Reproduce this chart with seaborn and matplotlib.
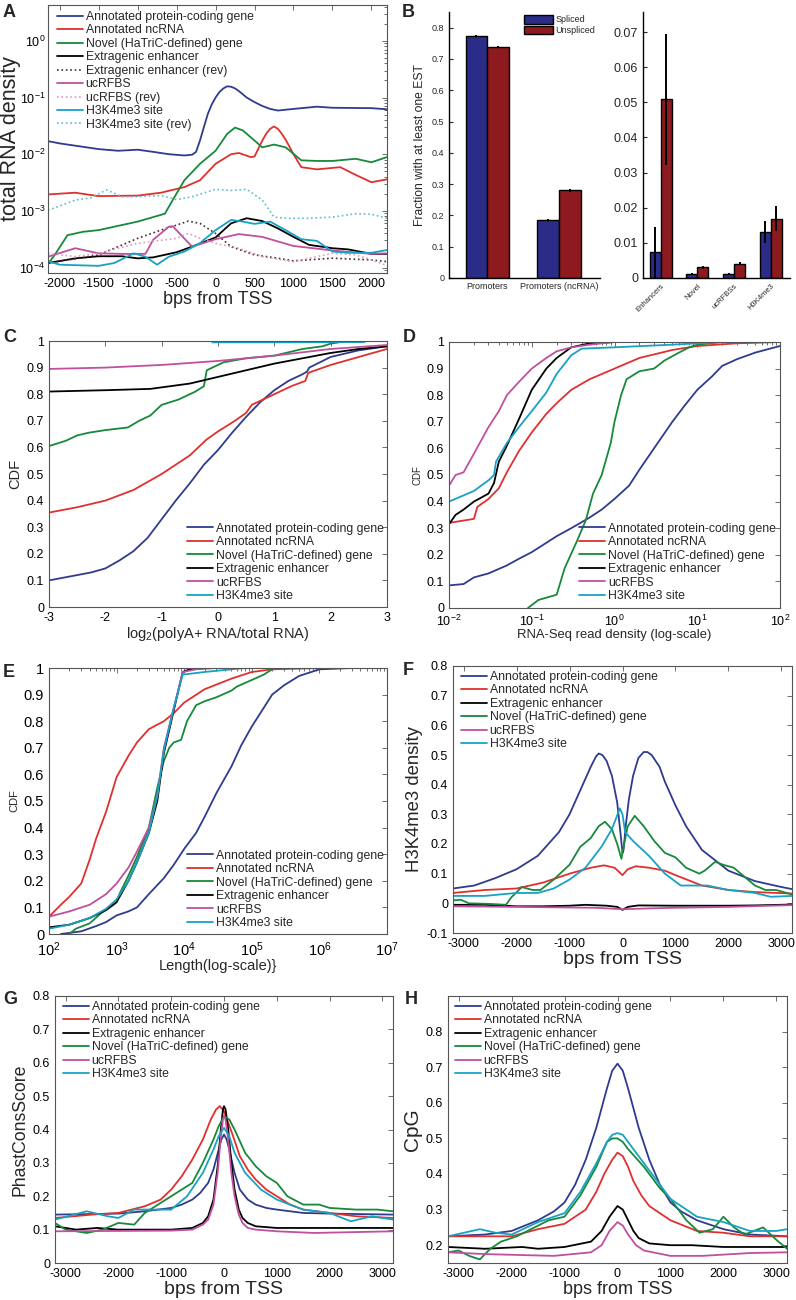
import numpy as np
import pandas as pd
import matplotlib
matplotlib.use('Agg')
import matplotlib.pyplot as plt
import seaborn as sns
from matplotlib.ticker import FuncFormatter, FixedLocator, LogLocator, NullFormatter

sns.set_style('white')
plt.rcParams['font.family'] = ['Liberation Sans', 'DejaVu Sans']
plt.rcParams['axes.unicode_minus'] = False
plt.rcParams['mathtext.default'] = 'regular'

# ---------------- colours ----------------
C_PC = '#2e3b8e'
C_NC = '#e0302e'
C_NOV = '#17893a'
C_ENH = '#000000'
C_UC = '#c0509e'
C_H3 = '#17a2c4'
C_ENH_REV = '#4a2a2a'
C_UC_REV = '#e09ac8'
C_H3_REV = '#5bbcd4'
C_SP = '#2a2c88'
C_UN = '#8c1a1f'

LBL_PC = 'Annotated protein-coding gene'
LBL_NC = 'Annotated ncRNA'
LBL_NOV = 'Novel (HaTriC-defined) gene'
LBL_ENH = 'Extragenic enhancer'
LBL_UC = 'ucRFBS'
LBL_H3 = 'H3K4me3 site'

# ---------------- Panel A data (total RNA density) ----------------
A_x_pc = [-2150, -2000, -1500, -1250, -1000, -800, -600, -400, -300, -250, -200, -150, -100, -50, 0, 50, 100, 150, 200, 250, 300, 400, 500, 600, 700, 800, 1000, 1300, 1500, 2000, 2200]
A_pc = [0.0170, 0.0155, 0.0123, 0.0115, 0.0120, 0.0110, 0.0100, 0.0095, 0.0098, 0.0110, 0.0174, 0.030, 0.051, 0.075, 0.100, 0.125, 0.145, 0.158, 0.155, 0.145, 0.130, 0.100, 0.083, 0.071, 0.063, 0.059, 0.063, 0.069, 0.066, 0.065, 0.062]
A_x_nc = [-2150, -1800, -1500, -1000, -700, -400, -200, 0, 200, 300, 450, 500, 600, 650, 700, 750, 800, 850, 900, 1000, 1100, 1300, 1600, 1800, 2000, 2200]
A_nc = [0.00195, 0.00209, 0.00182, 0.00186, 0.00209, 0.00263, 0.00347, 0.00676, 0.0100, 0.0105, 0.0089, 0.0091, 0.0174, 0.023, 0.028, 0.0309, 0.028, 0.0229, 0.018, 0.0100, 0.0059, 0.0054, 0.0059, 0.0043, 0.0032, 0.0036]
A_x_nov = [-2150, -2050, -1900, -1700, -1500, -1300, -1000, -800, -650, -550, -400, -200, 0, 150, 250, 350, 500, 600, 750, 900, 1100, 1300, 1500, 1800, 2000, 2200]
A_nov = [0.000115, 0.000178, 0.000372, 0.000427, 0.000457, 0.000525, 0.000646, 0.000776, 0.000891, 0.00155, 0.00347, 0.00676, 0.0115, 0.0229, 0.0295, 0.0263, 0.0174, 0.0132, 0.0148, 0.0132, 0.0078, 0.0076, 0.0076, 0.0083, 0.0072, 0.0089]
A_x_enh = [-2150, -1800, -1500, -1200, -1000, -800, -500, -300, 0, 200, 400, 600, 800, 1000, 1200, 1500, 1700, 2000, 2200]
A_enh = [0.000120, 0.000145, 0.000158, 0.000158, 0.000145, 0.000151, 0.000186, 0.000234, 0.000339, 0.000603, 0.000741, 0.000661, 0.000490, 0.000347, 0.000251, 0.000219, 0.000209, 0.000174, 0.000174]
A_x_enh_rev = [-2150, -1500, -1000, -700, -500, -350, -200, 0, 200, 500, 800, 1000, 1500, 2000, 2200]
A_enh_rev = [0.000119, 0.000167, 0.000327, 0.000458, 0.000561, 0.000659, 0.000600, 0.000400, 0.000233, 0.000167, 0.000146, 0.000131, 0.000146, 0.000136, 0.000127]
A_x_uc = [-2150, -1800, -1500, -1200, -900, -800, -600, -550, -400, -300, 0, 300, 600, 1000, 1500, 2000, 2200]
A_uc = [0.000155, 0.000219, 0.000178, 0.000174, 0.000174, 0.000309, 0.000525, 0.000537, 0.000324, 0.000234, 0.000316, 0.000389, 0.000347, 0.000240, 0.000200, 0.000174, 0.000178]
A_x_uc_rev = [-2150, -1800, -1500, -1000, -500, -350, -200, 0, 300, 600, 1000, 1300, 1500, 1800, 2000, 2200]
A_uc_rev = [0.000178, 0.000156, 0.000178, 0.000267, 0.000327, 0.000400, 0.000327, 0.000267, 0.000218, 0.000156, 0.000127, 0.000156, 0.000178, 0.000167, 0.000136, 0.000108]
A_x_h3 = [-2150, -2000, -1500, -1300, -1050, -900, -750, -600, -400, -200, 0, 200, 350, 500, 700, 900, 1100, 1300, 1500, 1700, 2000, 2200]
A_h3 = [0.000129, 0.000112, 0.000107, 0.000120, 0.000178, 0.000155, 0.000112, 0.000155, 0.000191, 0.000269, 0.000457, 0.000692, 0.000646, 0.000589, 0.000646, 0.000457, 0.000316, 0.000295, 0.000191, 0.000182, 0.000182, 0.000204]
A_x_h3_rev = [-2150, -1800, -1600, -1400, -1200, -1000, -700, -500, -300, 0, 200, 400, 600, 750, 900, 1200, 1500, 1800, 2000, 2200]
A_h3_rev = [0.00102, 0.00155, 0.00170, 0.00234, 0.00178, 0.00178, 0.00186, 0.00158, 0.00178, 0.00240, 0.00229, 0.00240, 0.00155, 0.000776, 0.000741, 0.000741, 0.000776, 0.000891, 0.000871, 0.000741]
A_xticks = [-2000, -1500, -1000, -500, 0, 500, 1000, 1500, 2000]

# ---------------- Panel B data (EST fractions) ----------------
B_left_cats = ['Promoters', 'Promoters (ncRNA)']
B_left_spliced = [0.773, 0.186]
B_left_unspliced = [0.737, 0.280]
B_left_spliced_err = [0.003, 0.003]
B_left_unspliced_err = [0.003, 0.004]
B_right_cats = ['Enhancers', 'Novel', 'ucRFBSs', 'H3K4me3']
B_right_spliced = [0.0073, 0.0012, 0.0012, 0.0131]
B_right_unspliced = [0.0508, 0.0030, 0.0041, 0.0169]
B_right_spliced_err = [0.0072, 0.0003, 0.0002, 0.0030]
B_right_unspliced_err = [0.0185, 0.0004, 0.0004, 0.0035]
B_kinds = ['Spliced', 'Unspliced']

# ---------------- Panel C data (CDF of log2 polyA+/total) ----------------
C_x_pc = [-3, -2.75, -2.5, -2.25, -2, -1.75, -1.5, -1.25, -1, -0.75, -0.5, -0.25, 0, 0.25, 0.5, 0.75, 1.0, 1.25, 1.5, 1.58, 1.62, 2.0, 2.5, 3.0]
C_pc = [0.10, 0.11, 0.12, 0.13, 0.145, 0.175, 0.21, 0.26, 0.33, 0.40, 0.465, 0.535, 0.59, 0.655, 0.715, 0.77, 0.815, 0.85, 0.875, 0.885, 0.90, 0.94, 0.965, 0.98]
C_x_nc = [-3, -2.5, -2, -1.5, -1, -0.5, -0.2, 0, 0.3, 0.5, 0.6, 1.0, 1.3, 1.55, 1.6, 2.0, 2.5, 3.0]
C_nc = [0.355, 0.375, 0.40, 0.44, 0.50, 0.57, 0.63, 0.66, 0.70, 0.73, 0.76, 0.80, 0.83, 0.85, 0.88, 0.91, 0.94, 0.97]
C_x_nov = [-3, -2.7, -2.5, -2.3, -2, -1.6, -1.4, -1.2, -1.0, -0.7, -0.4, -0.25, -0.2, -0.1, 0.1, 0.5, 1.0, 1.5, 1.85, 2.0, 2.15]
C_nov = [0.605, 0.625, 0.645, 0.655, 0.665, 0.675, 0.70, 0.72, 0.76, 0.78, 0.81, 0.83, 0.89, 0.90, 0.92, 0.935, 0.945, 0.97, 0.98, 0.99, 0.995]
C_x_enh = [-3, -2, -1.2, -0.5, 0, 0.5, 1.0, 1.5, 2.0, 2.5, 3.0]
C_enh = [0.81, 0.815, 0.82, 0.84, 0.865, 0.89, 0.915, 0.935, 0.955, 0.97, 0.98]
C_x_uc = [-3, -2, -1, 0, 1, 2, 3]
C_uc = [0.895, 0.90, 0.91, 0.925, 0.945, 0.97, 0.985]
C_x_h3 = [-0.1, 1.0, 2.6]
C_h3 = [0.995, 0.995, 0.996]

# ---------------- Panel D data (CDF of RNA-Seq read density) ----------------
D_x_pc = [0.01, 0.015, 0.02, 0.03, 0.05, 0.07, 0.1, 0.15, 0.2, 0.3, 0.5, 0.7, 1.0, 1.5, 2, 3, 5, 7, 10, 15, 20, 30, 50, 100]
D_pc = [0.085, 0.09, 0.115, 0.13, 0.16, 0.185, 0.21, 0.245, 0.27, 0.30, 0.34, 0.37, 0.41, 0.46, 0.52, 0.60, 0.70, 0.76, 0.82, 0.87, 0.91, 0.935, 0.96, 0.985]
D_x_nc = [0.01, 0.02, 0.022, 0.03, 0.04, 0.05, 0.07, 0.1, 0.15, 0.2, 0.3, 0.5, 1, 2, 5, 10, 30, 100]
D_nc = [0.32, 0.335, 0.38, 0.41, 0.45, 0.51, 0.59, 0.66, 0.73, 0.77, 0.82, 0.86, 0.90, 0.94, 0.97, 0.985, 0.995, 1.0]
D_x_nov = [0.09, 0.12, 0.2, 0.25, 0.35, 0.45, 0.55, 0.7, 0.9, 1.0, 1.2, 1.4, 2.0, 3.0, 4.0, 6, 8, 10, 20, 100]
D_nov = [0.0, 0.03, 0.05, 0.15, 0.25, 0.33, 0.43, 0.50, 0.62, 0.70, 0.80, 0.86, 0.89, 0.90, 0.93, 0.96, 0.98, 0.99, 1.0, 1.0]
D_x_enh = [0.01, 0.012, 0.015, 0.02, 0.03, 0.035, 0.04, 0.05, 0.07, 0.1, 0.15, 0.2, 0.3, 0.5, 1, 100]
D_enh = [0.315, 0.35, 0.37, 0.40, 0.43, 0.47, 0.55, 0.61, 0.71, 0.82, 0.90, 0.94, 0.98, 0.995, 1.0, 1.0]
D_x_uc = [0.01, 0.012, 0.015, 0.02, 0.03, 0.04, 0.05, 0.07, 0.1, 0.15, 0.2, 0.3, 0.5, 1, 100]
D_uc = [0.46, 0.50, 0.51, 0.58, 0.68, 0.74, 0.80, 0.85, 0.90, 0.94, 0.965, 0.98, 0.99, 1.0, 1.0]
D_x_h3 = [0.01, 0.02, 0.03, 0.035, 0.037, 0.05, 0.07, 0.1, 0.15, 0.2, 0.3, 0.4, 1, 5, 20, 100]
D_h3 = [0.40, 0.44, 0.48, 0.50, 0.55, 0.62, 0.68, 0.74, 0.81, 0.88, 0.95, 0.975, 0.98, 0.99, 1.0, 1.0]

# ---------------- Panel E data (CDF of length) ----------------
E_x_pc = [150, 300, 500, 700, 1000, 1500, 2000, 3000, 5000, 7000, 1e4, 1.5e4, 2e4, 3e4, 5e4, 7e4, 1e5, 1.5e5, 2e5, 3e5, 5e5, 1e6, 3e6]
E_pc = [0.0, 0.01, 0.03, 0.045, 0.07, 0.085, 0.10, 0.15, 0.21, 0.26, 0.32, 0.38, 0.44, 0.53, 0.63, 0.71, 0.78, 0.85, 0.90, 0.935, 0.97, 0.995, 1.0]
E_x_nc = [100, 150, 200, 300, 400, 500, 700, 1000, 1500, 2000, 3000, 5000, 7000, 1e4, 2e4, 5e4, 1e5, 2e5, 1e6, 3e6]
E_nc = [0.065, 0.11, 0.14, 0.19, 0.28, 0.36, 0.46, 0.59, 0.67, 0.72, 0.77, 0.80, 0.83, 0.87, 0.92, 0.96, 0.985, 0.995, 1.0, 1.0]
E_x_nov = [200, 250, 400, 600, 900, 1000, 1100, 1500, 2000, 3000, 4000, 5000, 6000, 7000, 9000, 1.1e4, 1.5e4, 2e4, 3e4, 5e4, 6e4, 1e5, 1.5e5, 2e5]
E_nov = [0.0, 0.02, 0.04, 0.08, 0.11, 0.12, 0.15, 0.22, 0.29, 0.40, 0.55, 0.65, 0.70, 0.72, 0.73, 0.80, 0.86, 0.875, 0.89, 0.915, 0.93, 0.955, 0.975, 0.995]
E_x_enh = [100, 200, 400, 700, 1000, 1500, 2000, 3000, 4000, 5000, 7000, 9500, 1.2e4, 2e4]
E_enh = [0.025, 0.035, 0.06, 0.09, 0.12, 0.20, 0.27, 0.38, 0.50, 0.68, 0.84, 0.985, 0.995, 1.0]
E_x_uc = [100, 200, 400, 700, 1000, 1500, 2000, 3000, 4000, 5000, 7000, 9500, 1.5e4, 3e4]
E_uc = [0.065, 0.085, 0.11, 0.15, 0.19, 0.25, 0.31, 0.40, 0.52, 0.70, 0.85, 0.985, 0.995, 1.0]
E_x_h3 = [100, 200, 400, 700, 1000, 1500, 2000, 3000, 4000, 5000, 7000, 9500, 2e4, 5e4, 8e4]
E_h3 = [0.02, 0.035, 0.06, 0.095, 0.13, 0.20, 0.27, 0.38, 0.52, 0.69, 0.85, 0.975, 0.985, 0.995, 1.0]

# ---------------- Panel F data (H3K4me3 density) ----------------
F_x_pc = [-3200, -2800, -2400, -2000, -1600, -1200, -1000, -800, -700, -600, -500, -450, -380, -300, -200, -100, -40, 0, 20, 60, 120, 200, 300, 400, 470, 550, 700, 800, 1000, 1200, 1500, 2000, 2500, 3000, 3200]
F_pc = [0.05, 0.06, 0.085, 0.115, 0.16, 0.24, 0.30, 0.38, 0.42, 0.46, 0.495, 0.505, 0.50, 0.48, 0.43, 0.34, 0.24, 0.17, 0.18, 0.26, 0.35, 0.43, 0.49, 0.51, 0.51, 0.50, 0.46, 0.41, 0.33, 0.26, 0.18, 0.11, 0.075, 0.055, 0.048]
F_x_nc = [-3200, -2600, -2000, -1500, -1000, -600, -350, -150, 0, 100, 250, 500, 800, 1000, 1500, 2000, 2500, 3200]
F_nc = [0.035, 0.045, 0.05, 0.07, 0.10, 0.12, 0.128, 0.12, 0.095, 0.115, 0.125, 0.12, 0.11, 0.095, 0.06, 0.045, 0.038, 0.033]
F_x_enh = [-3200, -2600, -2000, -1500, -1000, -700, -300, -100, 0, 100, 300, 1000, 1500, 2000, 2500, 3200]
F_enh = [-0.005, -0.005, -0.01, -0.01, -0.008, -0.005, -0.008, -0.012, -0.022, -0.012, -0.007, -0.008, -0.008, -0.008, -0.007, -0.004]
F_x_nov = [-3200, -3050, -2900, -2500, -2200, -2100, -1900, -1700, -1550, -1300, -1000, -800, -600, -450, -330, -200, -100, -20, 30, 100, 230, 400, 600, 800, 1000, 1200, 1450, 1550, 1750, 1900, 2100, 2300, 2500, 2700, 2900, 3200]
F_nov = [0.01, 0.012, 0.0, -0.002, -0.005, 0.02, 0.055, 0.045, 0.045, 0.08, 0.13, 0.19, 0.22, 0.26, 0.275, 0.25, 0.20, 0.15, 0.20, 0.26, 0.295, 0.26, 0.21, 0.17, 0.155, 0.12, 0.10, 0.11, 0.14, 0.13, 0.12, 0.09, 0.06, 0.045, 0.045, 0.03]
F_x_uc = [-3200, -2000, -1000, -500, 0, 500, 1000, 2000, 3200]
F_uc = [-0.01, -0.012, -0.014, -0.015, -0.02, -0.017, -0.015, -0.012, -0.006]
F_x_h3 = [-3200, -2600, -2000, -1600, -1300, -1000, -700, -400, -200, -50, 0, 50, 200, 500, 800, 1100, 1300, 1600, 2000, 2500, 2800, 3200]
F_h3 = [0.025, 0.025, 0.035, 0.035, 0.05, 0.08, 0.12, 0.19, 0.25, 0.32, 0.30, 0.24, 0.21, 0.16, 0.10, 0.06, 0.06, 0.06, 0.045, 0.035, 0.022, 0.025]

# ---------------- Panel G data (PhastCons) ----------------
G_x_pc = [-3200, -2000, -1500, -1000, -800, -600, -450, -300, -200, -100, -50, 0, 50, 100, 200, 300, 450, 600, 800, 1000, 1500, 2000, 3200]
G_pc = [0.145, 0.148, 0.155, 0.165, 0.175, 0.19, 0.21, 0.24, 0.28, 0.34, 0.37, 0.385, 0.37, 0.34, 0.27, 0.22, 0.19, 0.175, 0.165, 0.16, 0.15, 0.148, 0.145]
G_x_nc = [-3200, -2500, -2000, -1500, -1200, -1000, -800, -600, -400, -250, -150, -80, 0, 80, 150, 300, 450, 600, 800, 1000, 1250, 1500, 2000, 2500, 3200]
G_nc = [0.135, 0.145, 0.15, 0.17, 0.19, 0.22, 0.26, 0.31, 0.37, 0.43, 0.46, 0.47, 0.455, 0.42, 0.39, 0.32, 0.28, 0.25, 0.22, 0.20, 0.175, 0.16, 0.15, 0.14, 0.135]
G_x_enh = [-3200, -2800, -2400, -2000, -1000, -600, -400, -300, -200, -120, -60, -20, 0, 30, 80, 140, 200, 280, 350, 450, 600, 1000, 2000, 3200]
G_enh = [0.11, 0.10, 0.105, 0.10, 0.10, 0.105, 0.12, 0.14, 0.19, 0.29, 0.40, 0.46, 0.47, 0.46, 0.40, 0.30, 0.22, 0.16, 0.135, 0.12, 0.11, 0.105, 0.105, 0.105]
G_x_nov = [-3200, -3000, -2600, -2300, -2000, -1700, -1500, -1200, -1000, -800, -600, -400, -200, -100, 0, 100, 200, 400, 600, 800, 1000, 1200, 1500, 1800, 2000, 2500, 2900, 3200]
G_nov = [0.12, 0.10, 0.09, 0.10, 0.12, 0.115, 0.15, 0.18, 0.20, 0.22, 0.24, 0.30, 0.37, 0.41, 0.44, 0.43, 0.40, 0.33, 0.29, 0.26, 0.24, 0.20, 0.175, 0.175, 0.165, 0.16, 0.16, 0.155]
G_x_uc = [-3200, -1000, -600, -400, -300, -200, -120, -60, -20, 0, 30, 80, 140, 200, 280, 350, 450, 600, 1000, 1700, 3200]
G_uc = [0.095, 0.097, 0.10, 0.115, 0.13, 0.175, 0.27, 0.38, 0.43, 0.44, 0.43, 0.37, 0.27, 0.20, 0.145, 0.12, 0.105, 0.10, 0.095, 0.09, 0.095]
G_x_h3 = [-3200, -2600, -2200, -2000, -1700, -1200, -1000, -700, -400, -200, -100, 0, 100, 200, 400, 700, 1000, 1500, 2000, 2400, 2800, 3200]
G_h3 = [0.13, 0.155, 0.14, 0.135, 0.16, 0.16, 0.16, 0.20, 0.27, 0.34, 0.38, 0.405, 0.38, 0.33, 0.27, 0.22, 0.19, 0.16, 0.15, 0.125, 0.14, 0.13]

# ---------------- Panel H data (CpG) ----------------
H_x_pc = [-3200, -2500, -2000, -1500, -1200, -1000, -800, -600, -400, -300, -200, -100, 0, 100, 200, 300, 400, 600, 800, 1000, 1200, 1500, 2000, 2500, 3200]
H_pc = [0.225, 0.23, 0.24, 0.27, 0.295, 0.32, 0.37, 0.44, 0.53, 0.585, 0.64, 0.69, 0.71, 0.69, 0.64, 0.585, 0.53, 0.44, 0.37, 0.32, 0.295, 0.27, 0.245, 0.23, 0.225]
H_x_nc = [-3200, -2000, -1500, -1000, -800, -600, -400, -250, -100, 0, 100, 200, 300, 450, 600, 800, 1000, 1500, 2000, 2500, 3200]
H_nc = [0.225, 0.225, 0.245, 0.26, 0.28, 0.30, 0.35, 0.40, 0.44, 0.46, 0.45, 0.42, 0.38, 0.34, 0.31, 0.29, 0.27, 0.24, 0.235, 0.225, 0.225]
H_x_enh = [-3200, -2500, -1800, -1500, -1000, -500, -300, -150, 0, 100, 200, 300, 400, 600, 1000, 1400, 2000, 3200]
H_enh = [0.195, 0.19, 0.195, 0.19, 0.195, 0.21, 0.24, 0.28, 0.31, 0.30, 0.27, 0.24, 0.22, 0.205, 0.20, 0.20, 0.195, 0.195]
H_x_nov = [-3200, -3000, -2800, -2600, -2400, -2200, -1900, -1500, -1300, -1000, -700, -400, -200, -100, 0, 100, 200, 500, 800, 1000, 1300, 1550, 1800, 2000, 2200, 2400, 2750, 3000, 3200]
H_nov = [0.18, 0.185, 0.17, 0.16, 0.19, 0.21, 0.225, 0.255, 0.27, 0.28, 0.34, 0.42, 0.49, 0.50, 0.50, 0.49, 0.47, 0.42, 0.36, 0.33, 0.27, 0.235, 0.245, 0.28, 0.25, 0.23, 0.25, 0.215, 0.19]
H_x_uc = [-3200, -2500, -1200, -500, -300, -150, 0, 100, 200, 350, 500, 1000, 1600, 2500, 3200]
H_uc = [0.18, 0.175, 0.17, 0.18, 0.20, 0.24, 0.265, 0.255, 0.23, 0.20, 0.185, 0.17, 0.17, 0.178, 0.18]
H_x_h3 = [-3200, -2600, -2300, -2000, -1500, -1000, -700, -400, -200, -100, 0, 100, 200, 500, 800, 1000, 1500, 2000, 2500, 3000, 3200]
H_h3 = [0.225, 0.245, 0.235, 0.23, 0.265, 0.29, 0.35, 0.43, 0.49, 0.51, 0.515, 0.51, 0.49, 0.43, 0.37, 0.33, 0.28, 0.265, 0.24, 0.24, 0.245]

TSS_ticks = [-3000, -2000, -1000, 0, 1000, 2000, 3000]

# ---------------- figure ----------------
W, H = 796, 1300
fig = plt.figure(figsize=(W / 100, H / 100), dpi=100)
fig.patch.set_facecolor('white')


def add_ax(l, t, r, b):
    return fig.add_axes([l / W, 1 - b / H, (r - l) / W, (b - t) / H])


gfmt = FuncFormatter(lambda v, p: f'{round(v, 6):g}')
LW = 1.3
SPINE = '#555555'


def style_box(ax, fs, xpad=3.5):
    for s in ax.spines.values():
        s.set_visible(True)
        s.set_color(SPINE)
        s.set_linewidth(0.8)
    ax.tick_params(which='both', direction='in', top=True, right=True,
                   labelsize=fs, colors=SPINE, labelcolor='black', width=0.6)
    ax.tick_params(which='major', length=3.5)
    ax.tick_params(which='minor', length=2)
    ax.tick_params(axis='x', pad=xpad)
    ax.grid(False)
    ax.set_facecolor('white')


def draw(ax, x, y, color, label, ls='-', lw=LW):
    sns.lineplot(x=x, y=y, ax=ax, color=color, linestyle=ls, linewidth=lw,
                 label=label, legend=False, errorbar=None)


def legend(ax, anchor_px, loc, fs=8.8):
    ax.legend(loc=loc, bbox_to_anchor=(anchor_px[0] / W, 1 - anchor_px[1] / H),
              bbox_transform=fig.transFigure, frameon=False, fontsize=fs,
              handlelength=2.1, handletextpad=0.25, labelspacing=0.12,
              borderpad=0, borderaxespad=0)


def letter(x, y, s):
    fig.text(x / W, 1 - y / H, s, fontsize=13, fontweight='bold', va='top', ha='left')


# ---- Panel A ----
axA = add_ax(48, 5, 387, 273)
draw(axA, A_x_pc, A_pc, C_PC, LBL_PC)
draw(axA, A_x_nc, A_nc, C_NC, LBL_NC)
draw(axA, A_x_nov, A_nov, C_NOV, LBL_NOV)
draw(axA, A_x_enh, A_enh, C_ENH, LBL_ENH)
draw(axA, A_x_enh_rev, A_enh_rev, C_ENH_REV, LBL_ENH + ' (rev)', ls=':', lw=1.2)
draw(axA, A_x_uc, A_uc, C_UC, LBL_UC)
draw(axA, A_x_uc_rev, A_uc_rev, C_UC_REV, LBL_UC + ' (rev)', ls=':', lw=1.2)
draw(axA, A_x_h3, A_h3, C_H3, LBL_H3)
draw(axA, A_x_h3_rev, A_h3_rev, C_H3_REV, LBL_H3 + ' (rev)', ls=':', lw=1.2)
axA.set_yscale('log')
axA.set_ylim(8e-5, 4.3)
axA.set_xlim(-2150, 2200)
axA.xaxis.set_major_locator(FixedLocator(A_xticks))
axA.xaxis.set_major_formatter(gfmt)
axA.yaxis.set_major_locator(LogLocator(base=10, numticks=10))
axA.yaxis.set_minor_locator(LogLocator(base=10, subs=np.arange(2, 10), numticks=20))
axA.yaxis.set_minor_formatter(NullFormatter())
style_box(axA, 9)
axA.tick_params(axis='y', pad=2)
axA.set_xlabel('bps from TSS', fontsize=13, labelpad=1)
axA.set_ylabel('total RNA density', fontsize=15.5)
axA.yaxis.set_label_coords((21 - 48) / 339, 0.5)
legend(axA, (57, 11), 'upper left')
letter(3, 4, 'A')


# ---- Panel B ----
def bars(ax, cats, s, u, se, ue, fs_ticks):
    df = pd.DataFrame({'cat': cats * 2,
                       'kind': [B_kinds[0]] * len(cats) + [B_kinds[1]] * len(cats),
                       'val': s + u})
    sns.barplot(data=df, x='cat', y='val', hue='kind', order=cats, hue_order=B_kinds,
                palette=[C_SP, C_UN], width=0.6, errorbar=None, saturation=1,
                edgecolor='black', linewidth=1.0, ax=ax)
    for cont, vals, errs in zip(ax.containers, [s, u], [se, ue]):
        xs = [p.get_x() + p.get_width() / 2 for p in cont.patches]
        ax.errorbar(xs, vals, yerr=errs, fmt='none', ecolor='black', elinewidth=1.4, capsize=0)
    for side in ['top', 'right']:
        ax.spines[side].set_visible(False)
    for side in ['left', 'bottom']:
        ax.spines[side].set_visible(True)
        ax.spines[side].set_color('black')
        ax.spines[side].set_linewidth(1.0)
    ax.tick_params(axis='y', direction='in', length=3, left=True, labelsize=fs_ticks)
    ax.tick_params(axis='x', length=0)
    ax.set_xlabel('')
    ax.set_facecolor('white')
    ax.grid(False)


axBl = add_ax(449, 12, 600, 278)
bars(axBl, B_left_cats, B_left_spliced, B_left_unspliced, B_left_spliced_err, B_left_unspliced_err, 6.5)
axBl.set_xlim(-0.53, 1.57)
axBl.set_ylim(0, 0.85)
axBl.yaxis.set_major_locator(FixedLocator([0, 0.1, 0.2, 0.3, 0.4, 0.5, 0.6, 0.7, 0.8]))
axBl.yaxis.set_major_formatter(gfmt)
axBl.tick_params(axis='x', labelsize=6.5, pad=3)
axBl.set_ylabel('Fraction with at least one EST', fontsize=8.7, labelpad=4)
axBl.legend(loc='upper left', bbox_to_anchor=(524 / W, 1 - 15 / H), bbox_transform=fig.transFigure,
            frameon=False, fontsize=6.5, handlelength=3.2, handleheight=1.1,
            handletextpad=0.3, labelspacing=0.15, borderpad=0, borderaxespad=0)

axBr = add_ax(643, 12, 790, 278)
bars(axBr, B_right_cats, B_right_spliced, B_right_unspliced, B_right_spliced_err, B_right_unspliced_err, 9)
axBr.get_legend().remove()
axBr.set_xlim(-0.48, 3.52)
axBr.set_ylim(0, 0.0757)
axBr.yaxis.set_major_locator(FixedLocator([0, 0.01, 0.02, 0.03, 0.04, 0.05, 0.06, 0.07]))
axBr.yaxis.set_major_formatter(gfmt)
axBr.set_ylabel('')
plt.setp(axBr.get_xticklabels(), rotation=45, ha='right', rotation_mode='anchor', fontsize=5.5)
letter(402, 4, 'B')

# ---- Panel C ----
axC = add_ax(49, 341, 387, 607)
draw(axC, C_x_pc, C_pc, C_PC, LBL_PC)
draw(axC, C_x_nc, C_nc, C_NC, LBL_NC)
draw(axC, C_x_nov, C_nov, C_NOV, LBL_NOV)
draw(axC, C_x_enh, C_enh, C_ENH, LBL_ENH)
draw(axC, C_x_uc, C_uc, C_UC, LBL_UC)
draw(axC, C_x_h3, C_h3, C_H3, LBL_H3)
axC.set_xlim(-3, 3)
axC.set_ylim(0, 1)
axC.xaxis.set_major_locator(FixedLocator([-3, -2, -1, 0, 1, 2, 3]))
axC.yaxis.set_major_locator(FixedLocator(list(np.round(np.arange(0, 1.01, 0.1), 1))))
axC.xaxis.set_major_formatter(gfmt)
axC.yaxis.set_major_formatter(gfmt)
style_box(axC, 9)
axC.set_xlabel(r'log$_\mathdefault{2}$(polyA+ RNA/total RNA)', fontsize=10.5, labelpad=1)
axC.set_ylabel('CDF', fontsize=10.5, labelpad=3)
legend(axC, (384, 602), 'lower right')
letter(3, 329, 'C')

# ---- Panel D ----
axD = add_ax(449, 342, 780, 608)
draw(axD, D_x_pc, D_pc, C_PC, LBL_PC)
draw(axD, D_x_nc, D_nc, C_NC, LBL_NC)
draw(axD, D_x_nov, D_nov, C_NOV, LBL_NOV)
draw(axD, D_x_enh, D_enh, C_ENH, LBL_ENH)
draw(axD, D_x_uc, D_uc, C_UC, LBL_UC)
draw(axD, D_x_h3, D_h3, C_H3, LBL_H3)
axD.set_xscale('log')
axD.set_xlim(1e-2, 1e2)
axD.set_ylim(0, 1)
axD.xaxis.set_major_locator(LogLocator(base=10, numticks=10))
axD.xaxis.set_minor_locator(LogLocator(base=10, subs=np.arange(2, 10), numticks=20))
axD.xaxis.set_minor_formatter(NullFormatter())
axD.yaxis.set_major_locator(FixedLocator(list(np.round(np.arange(0, 1.01, 0.1), 1))))
axD.yaxis.set_major_formatter(gfmt)
style_box(axD, 9, xpad=4.5)
axD.set_xlabel('RNA-Seq read density (log-scale)', fontsize=9.4, labelpad=0)
axD.set_ylabel('CDF', fontsize=7, labelpad=3)
legend(axD, (776, 602), 'lower right')
letter(403, 329, 'D')

# ---- Panel E ----
axE = add_ax(49, 668, 387, 934)
draw(axE, E_x_pc, E_pc, C_PC, LBL_PC)
draw(axE, E_x_nc, E_nc, C_NC, LBL_NC)
draw(axE, E_x_nov, E_nov, C_NOV, LBL_NOV)
draw(axE, E_x_enh, E_enh, C_ENH, LBL_ENH)
draw(axE, E_x_uc, E_uc, C_UC, LBL_UC)
draw(axE, E_x_h3, E_h3, C_H3, LBL_H3)
axE.set_xscale('log')
axE.set_xlim(1e2, 1e7)
axE.set_ylim(0, 1)
axE.xaxis.set_major_locator(LogLocator(base=10, numticks=10))
axE.xaxis.set_minor_locator(LogLocator(base=10, subs=np.arange(2, 10), numticks=20))
axE.xaxis.set_minor_formatter(NullFormatter())
axE.yaxis.set_major_locator(FixedLocator(list(np.round(np.arange(0, 1.01, 0.1), 1))))
axE.yaxis.set_major_formatter(gfmt)
style_box(axE, 10.5, xpad=4.5)
axE.set_xlabel('Length(log-scale)}', fontsize=10.5, labelpad=0)
axE.set_ylabel('CDF', fontsize=8, labelpad=3)
legend(axE, (384, 929), 'lower right')
letter(3, 664, 'E')


# ---- Panels F, G, H ----
def tss_panel(ax, data, ylim, yticks, ylabel, ylfs, xlfs, anchor):
    for x, y, c, lab in data:
        draw(ax, x, y, c, lab)
    ax.set_xlim(-3200, 3200)
    ax.set_ylim(*ylim)
    ax.xaxis.set_major_locator(FixedLocator(TSS_ticks))
    ax.yaxis.set_major_locator(FixedLocator(yticks))
    ax.xaxis.set_major_formatter(gfmt)
    ax.yaxis.set_major_formatter(gfmt)
    style_box(ax, 9)
    ax.set_xlabel('bps from TSS', fontsize=xlfs, labelpad=1)
    ax.set_ylabel(ylabel, fontsize=ylfs, labelpad=3)
    legend(ax, anchor, 'upper left')


axF = add_ax(453, 666, 792, 933)
tss_panel(axF, [(F_x_pc, F_pc, C_PC, LBL_PC), (F_x_nc, F_nc, C_NC, LBL_NC),
                (F_x_enh, F_enh, C_ENH, LBL_ENH), (F_x_nov, F_nov, C_NOV, LBL_NOV),
                (F_x_uc, F_uc, C_UC, LBL_UC), (F_x_h3, F_h3, C_H3, LBL_H3)],
          (-0.1, 0.8), [-0.1, 0, 0.1, 0.2, 0.3, 0.4, 0.5, 0.6, 0.7, 0.8],
          'H3K4me3 density', 13.3, 14, (461, 671))
letter(403, 662, 'F')

axG = add_ax(55, 996, 393, 1263)
tss_panel(axG, [(G_x_pc, G_pc, C_PC, LBL_PC), (G_x_nc, G_nc, C_NC, LBL_NC),
                (G_x_enh, G_enh, C_ENH, LBL_ENH), (G_x_nov, G_nov, C_NOV, LBL_NOV),
                (G_x_uc, G_uc, C_UC, LBL_UC), (G_x_h3, G_h3, C_H3, LBL_H3)],
          (0, 0.8), [0, 0.1, 0.2, 0.3, 0.4, 0.5, 0.6, 0.7, 0.8],
          'PhastConsScore', 12.7, 14, (63, 1001))
letter(3, 991, 'G')

axH = add_ax(448, 996, 787, 1263)
tss_panel(axH, [(H_x_pc, H_pc, C_PC, LBL_PC), (H_x_nc, H_nc, C_NC, LBL_NC),
                (H_x_enh, H_enh, C_ENH, LBL_ENH), (H_x_nov, H_nov, C_NOV, LBL_NOV),
                (H_x_uc, H_uc, C_UC, LBL_UC), (H_x_h3, H_h3, C_H3, LBL_H3)],
          (0.15, 0.9), [0.2, 0.3, 0.4, 0.5, 0.6, 0.7, 0.8],
          'CpG', 15, 13, (455, 1001))
letter(405, 991, 'H')

fig.savefig('out.png', dpi=100, facecolor='white')
